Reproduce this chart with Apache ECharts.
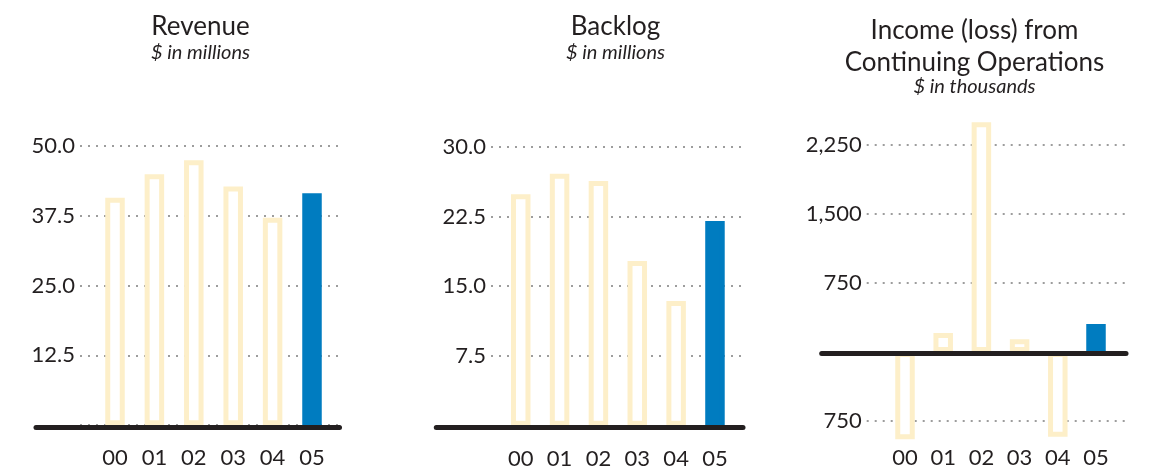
<!DOCTYPE html>
<html>
<head>
<meta charset="utf-8">
<title>Revenue, Backlog, Income</title>
<script src="https://cdn.jsdelivr.net/npm/echarts@6/dist/echarts.min.js"></script>
<style>
  html, body { margin: 0; padding: 0; background: #fff; }
  #container { width: 1150px; height: 466px; }
</style>
</head>
<body>
<div id="container"></div>
<script>
// data
var years = ['00', '01', '02', '03', '04', '05'];
var revenue = [40.7, 44.9, 47.4, 42.7, 37.1, 41.5];      // $ in millions
var backlog = [24.9, 27.1, 26.3, 17.7, 13.4, 22.0];      // $ in millions
var income = [-949, 207, 2497, 138, -921, 304];           // $ in thousands
var revenueTicks = [0, 12.5, 25, 37.5, 50];
var backlogTicks = [0, 7.5, 15, 22.5, 30];
var incomeTicks = [-750, 0, 750, 1500, 2250];

var ink = '#231f20';
var pale = '#fdefc9';
var blue = '#007cc0';
var font = 'Lato';

function decimalLabel(v) {
    return v === 0 ? '' : v.toFixed(1);
}
function thousandLabel(v) {
    return v === 0 ? '' : Math.abs(v).toLocaleString('en-US');   // loss shown without sign, like the print
}

var panels = [
    { title: 'Revenue', sub: '$ in millions', cx: 200.5, values: revenue, ticks: revenueTicks, fmt: decimalLabel,
      axisLeft: 80, axisWidth: 261, barLeft: 95.3, barWidth: 236.4, baseLeft: 36, baseWidth: 303.5,
      top: 145.7, height: 279.5, baseShift: 2, labelMargin: 22, titleTop: 11 },
    { title: 'Backlog', sub: '$ in millions', cx: 615.5, values: backlog, ticks: backlogTicks, fmt: decimalLabel,
      axisLeft: 491, axisWidth: 252, barLeft: 501.3, barWidth: 233.1, baseLeft: 436.3, baseWidth: 306.7,
      top: 146.7, height: 279, baseShift: 2, labelMargin: 22, titleTop: 11 },
    { title: 'Income (loss) from\nContinuing Operations', sub: '$ in thousands', cx: 974.5, values: income, ticks: incomeTicks, fmt: thousandLabel,
      axisLeft: 866.7, axisWidth: 261.3, barLeft: 885.9, barWidth: 229.2, baseLeft: 821.7, baseWidth: 304.3,
      top: 145, height: 276, baseShift: 1.5, labelMargin: 26, titleTop: 15 }
];

var titles = [], grids = [], xAxes = [], yAxes = [], series = [];

panels.forEach(function (p, i) {
    var min = p.ticks[0];
    var max = p.ticks[p.ticks.length - 1];
    var step = p.ticks[1] - p.ticks[0];
    var g = i * 3;

    titles.push({
        text: p.title,
        subtext: p.sub,
        left: p.cx,
        top: p.titleTop,
        textAlign: 'center',
        itemGap: i === 2 ? -1 : 0,
        padding: 0,
        textStyle: { fontFamily: font, fontSize: 26, fontWeight: 'normal', color: ink, lineHeight: 31.5 },
        subtextStyle: { fontFamily: font, fontSize: 20, fontStyle: 'italic', color: ink, lineHeight: 20 }
    });

    // grid 1: tick labels and dotted lines
    grids.push({ left: p.axisLeft, width: p.axisWidth, top: p.top, height: p.height, outerBoundsMode: 'none' });
    // grid 2: bars and year labels
    grids.push({ left: p.barLeft, width: p.barWidth, top: p.top, height: p.height, outerBoundsMode: 'none' });
    // grid 3: the heavy baseline
    grids.push({ left: p.baseLeft, width: p.baseWidth, top: p.top + p.baseShift, height: p.height, outerBoundsMode: 'none' });

    xAxes.push({ gridIndex: g, type: 'category', data: years, show: false });
    yAxes.push({
        gridIndex: g, type: 'value', min: min, max: max, interval: step,
        axisLine: { show: false },
        axisTick: { show: false },
        axisLabel: { formatter: p.fmt, margin: 5, fontFamily: font, fontSize: 22, color: ink },
        splitLine: { show: true, lineStyle: { color: '#9d9d9d', width: 2, type: [2, 6] } }
    });

    xAxes.push({
        gridIndex: g + 1, type: 'category', data: years, position: 'bottom',
        axisLine: { show: false, onZero: false },
        axisTick: { show: false },
        axisLabel: { margin: p.labelMargin, fontFamily: font, fontSize: 22, color: ink }
    });
    yAxes.push({ gridIndex: g + 1, type: 'value', min: min, max: max, interval: step, show: false });

    xAxes.push({
        gridIndex: g + 2, type: 'category', data: years, z: 10,
        axisLine: { show: true, onZero: true, lineStyle: { color: ink, width: 5 } },
        axisTick: { show: false },
        axisLabel: { show: false }
    });
    yAxes.push({ gridIndex: g + 2, type: 'value', min: min, max: max, interval: step, show: false });

    series.push({
        type: 'bar',
        xAxisIndex: g + 1,
        yAxisIndex: g + 1,
        barWidth: 19.5,
        clip: false,
        silent: true,
        itemStyle: { color: '#ffffff', borderColor: pale, borderWidth: 5 },
        data: p.values.map(function (v, k) {
            // the latest year is the solid blue bar
            if (k === p.values.length - 1) {
                return { value: v, itemStyle: { color: blue, borderColor: blue } };
            }
            return v;
        })
    });
});

var myChart = echarts.init(document.getElementById('container'));
myChart.setOption({
    animation: false,
    title: titles,
    grid: grids,
    xAxis: xAxes,
    yAxis: yAxes,
    series: series
});
</script>
</body>
</html>
